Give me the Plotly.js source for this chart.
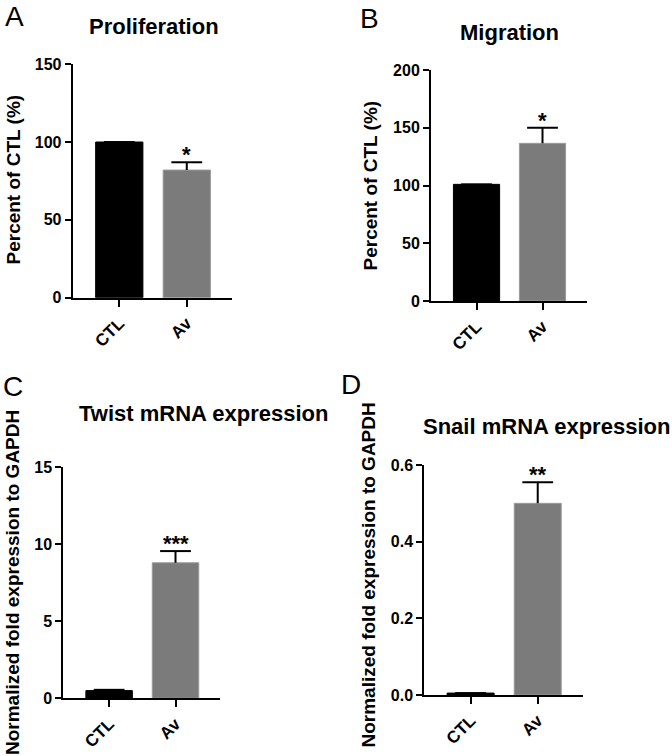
<!DOCTYPE html>
<html>
<head>
<meta charset="utf-8">
<script src="https://cdn.plot.ly/plotly-3.0.1.min.js"></script>
<style>html,body{margin:0;padding:0;background:#fff;}#chart{width:672px;height:756px;}</style>
</head>
<body>
<div id="chart"></div>
<script>
// ---- data ----
const categories = ["CTL", "Av"];
const prolifValues = [100, 82];
const prolifErr = [0, 5];
const prolifSig = ["", "*"];
const migrValues = [101, 136.5];
const migrErr = [0, 13.5];
const migrSig = ["", "*"];
const twistValues = [0.5, 8.8];
const twistErr = [0.05, 0.76];
const twistSig = ["", "***"];
const snailValues = [0.005, 0.5];
const snailErr = [0, 0.055];
const snailSig = ["", "**"];
const panelTitles = ["Proliferation", "Migration", "Twist mRNA expression", "Snail mRNA expression"];
const panelLetters = ["A", "B", "C", "D"];
const yTitles = ["Percent of CTL (%)", "Percent of CTL (%)", "Normalized fold expression to GAPDH", "Normalized fold expression to GAPDH"];

const barColors = ["#000000", "#7b7b7b"];
const FONT = "Liberation Sans, Arial, sans-serif";

const panels = [
  {vals: prolifValues, err: prolifErr, sig: prolifSig, xa: "x", ya: "y", range: [0, 150], dtick: 50, fmt: "",
   xd: [72.7, 232], yd: [297.7, 64.2]},
  {vals: migrValues, err: migrErr, sig: migrSig, xa: "x2", ya: "y2", range: [0, 200], dtick: 50, fmt: "",
   xd: [431, 586.7], yd: [301, 70]},
  {vals: twistValues, err: twistErr, sig: twistSig, xa: "x3", ya: "y3", range: [0, 15], dtick: 5, fmt: "",
   xd: [63.3, 220], yd: [698.3, 467.3]},
  {vals: snailValues, err: snailErr, sig: snailSig, xa: "x4", ya: "y4", range: [0, 0.6], dtick: 0.2, fmt: ".1f",
   xd: [424.3, 582.7], yd: [695, 465]}
];

const W = 672, H = 756;
const traces = [];
const layout = {
  width: W, height: H,
  margin: {l: 0, r: 0, t: 0, b: 0},
  paper_bgcolor: "#fff", plot_bgcolor: "#fff",
  showlegend: false,
  annotations: [],
  font: {family: FONT, color: "#000"}
};

const titlePos = [[154, 26], [509, 32.5], [204, 413], [546, 426.5]];
const letterPos = [[14, 0], [369, 2], [13, 370], [351, 368]];
const yTitlePos = [[12.5, 180], [369.5, 186], [12, 583], [367.5, 575]];

panels.forEach((p, i) => {
  const n = i === 0 ? "" : String(i + 1);
  const tops = p.vals.map((v, k) => v + p.err[k]);
  // bars with upper error stem (no caps)
  traces.push({
    type: "bar", x: categories, y: p.vals,
    xaxis: p.xa, yaxis: p.ya,
    width: 0.7,
    marker: {color: barColors, line: {color: ["#000000", "#9a9a9a"], width: 1}},
    error_y: {type: "data", symmetric: false, array: p.err, arrayminus: p.err.map(() => 0),
              color: "#000", thickness: 2, width: 0},
    hoverinfo: "skip"
  });
  // error bar caps at the top of each error bar
  traces.push({
    type: "scatter", mode: "markers", x: categories, y: tops,
    xaxis: p.xa, yaxis: p.ya, cliponaxis: false,
    marker: {symbol: "line-ew", size: 22, line: {color: "#000", width: 2}},
    hoverinfo: "skip"
  });
  layout["xaxis" + n] = {
    domain: [p.xd[0] / W, p.xd[1] / W],
    anchor: p.ya, range: [-0.69, 1.67],
    showline: true, linecolor: "#000", linewidth: 2,
    ticks: "outside", ticklen: 7, tickwidth: 2, tickcolor: "#000",
    tickangle: -45, showgrid: false, zeroline: false, fixedrange: true,
    tickfont: {family: FONT, size: 17, weight: "bold", color: "#000"}
  };
  layout["yaxis" + n] = {
    domain: [1 - p.yd[0] / H, 1 - p.yd[1] / H],
    anchor: p.xa, range: p.range, dtick: p.dtick, tick0: 0, tickformat: p.fmt,
    showline: true, linecolor: "#000", linewidth: 2,
    ticks: "outside", ticklen: 6, tickwidth: 2, tickcolor: "#000",
    showgrid: false, zeroline: false, fixedrange: true,
    tickfont: {family: FONT, size: 16, weight: "bold", color: "#000"}
  };
  // significance stars
  categories.forEach((c, k) => {
    if (p.sig[k]) {
      layout.annotations.push({
        xref: p.xa, yref: p.ya, x: c, y: tops[k],
        text: p.sig[k], showarrow: false, yanchor: "bottom", yshift: -7,
        font: {family: FONT, size: 22, weight: "bold", color: "#000"}
      });
    }
  });
  // title
  layout.annotations.push({
    xref: "paper", yref: "paper", x: titlePos[i][0] / W, y: 1 - titlePos[i][1] / H,
    xanchor: "center", yanchor: "middle", showarrow: false,
    text: panelTitles[i], font: {family: FONT, size: 22, weight: "bold", color: "#000"}
  });
  // panel letter
  layout.annotations.push({
    xref: "paper", yref: "paper", x: letterPos[i][0] / W, y: 1 - letterPos[i][1] / H,
    xanchor: "center", yanchor: "top", showarrow: false, borderpad: 0,
    text: panelLetters[i], font: {family: FONT, size: 28, color: "#000"}
  });
  // y-axis title
  layout.annotations.push({
    xref: "paper", yref: "paper", x: yTitlePos[i][0] / W, y: 1 - yTitlePos[i][1] / H,
    xanchor: "center", yanchor: "middle", showarrow: false, textangle: -90,
    text: yTitles[i], font: {family: FONT, size: 19, weight: "bold", color: "#000"}
  });
});

Plotly.newPlot("chart", traces, layout, {displayModeBar: false, staticPlot: true});
</script>
</body>
</html>
